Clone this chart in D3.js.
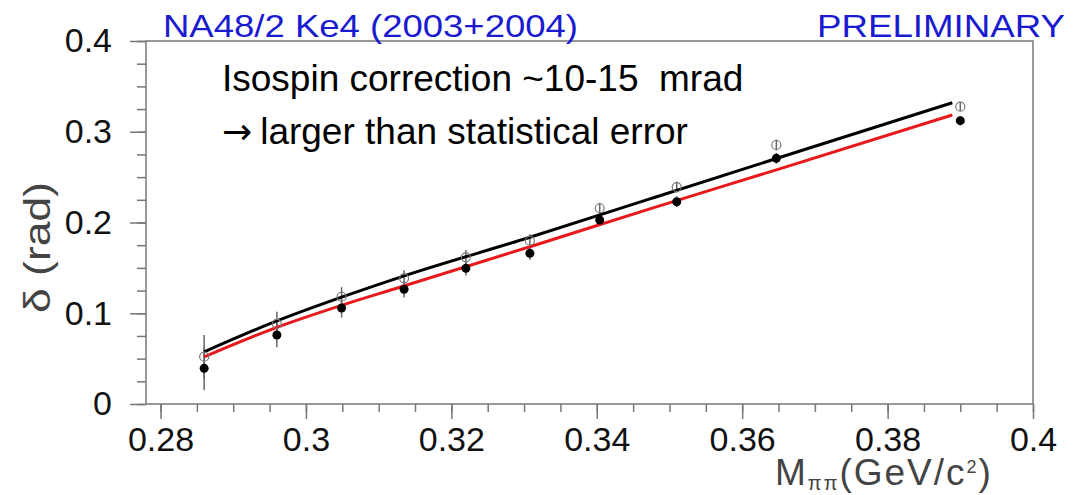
<!DOCTYPE html>
<meta charset="utf-8">
<title>NA48/2 Ke4 phase shift</title>
<style>
body { margin: 0; background: #fff; }
svg { display: block; font-family: "Liberation Sans", Arial, sans-serif; }
</style>
<body>
<script src="https://d3js.org/d3.v7.min.js"></script>
<script>
// measured points: M_pipi (GeV/c2), delta (rad)
var mass        = [0.286, 0.296, 0.3049, 0.3135, 0.322, 0.3308, 0.3404, 0.351, 0.3647, 0.390];
var deltaOpen   = [0.0521, 0.0882, 0.1182, 0.1385, 0.1616, 0.180, 0.2157, 0.239, 0.2854, 0.3276];
var deltaFilled = [0.0393, 0.076, 0.1058, 0.1264, 0.1495, 0.166, 0.2028, 0.2229, 0.2707, 0.3122];
var deltaErr    = [0.024, 0.0134, 0.0105, 0.009, 0.008, 0.007, 0.006, 0.006, 0.006, 0.005];

// theory curves
var curveMass  = [0.286, 0.296, 0.305, 0.3129, 0.3308, 0.3473, 0.3647, 0.3889];
var curveBlack = [0.0575, 0.0915, 0.118, 0.1396, 0.1837, 0.226, 0.2705, 0.332];
var curveRed   = [0.052, 0.0845, 0.109, 0.1286, 0.1733, 0.215, 0.258, 0.3185];

var xMajor = [0.28, 0.30, 0.32, 0.34, 0.36, 0.38, 0.40];
var xLabels = ["0.28", "0.3", "0.32", "0.34", "0.36", "0.38", "0.4"];
var yMajor = [0, 0.1, 0.2, 0.3, 0.4];
var yLabels = ["0", "0.1", "0.2", "0.3", "0.4"];

var width = 1077, height = 495;
var plotLeft = 146, plotRight = 1033, plotTop = 41, plotBottom = 404;

var svg = d3.select("body").append("svg")
    .attr("width", width)
    .attr("height", height);

svg.append("rect").attr("width", width).attr("height", height).attr("fill", "#fff");

var x = d3.scaleLinear().domain([0.278, 0.4]).range([plotLeft, plotRight]);
var y = d3.scaleLinear().domain([0, 0.4]).range([plotBottom, plotTop]);

var axisColor = "#777";

// frame
svg.append("rect")
    .attr("x", plotLeft).attr("y", plotTop)
    .attr("width", plotRight - plotLeft).attr("height", plotBottom - plotTop)
    .attr("fill", "none")
    .attr("stroke", axisColor)
    .attr("stroke-width", 1.5);

// minor ticks
var xMinor = d3.range(0.28, 0.4001, 0.005);
var yMinor = d3.range(0, 0.4001, 0.025);

svg.append("g")
    .attr("transform", "translate(0," + plotBottom + ")")
    .call(d3.axisBottom(x).tickValues(xMinor).tickSize(8).tickFormat(""))
    .call(function(g) { g.select(".domain").remove(); g.selectAll("line").attr("stroke", axisColor).attr("stroke-width", 1.5); });

svg.append("g")
    .attr("transform", "translate(" + plotLeft + ",0)")
    .call(d3.axisLeft(y).tickValues(yMinor).tickSize(9).tickFormat(""))
    .call(function(g) { g.select(".domain").remove(); g.selectAll("line").attr("stroke", axisColor).attr("stroke-width", 1.5); });

// major ticks + labels
svg.append("g")
    .attr("transform", "translate(0," + plotBottom + ")")
    .call(d3.axisBottom(x).tickValues(xMajor).tickSize(15).tickPadding(8)
        .tickFormat(function(d, i) { return xLabels[i]; }))
    .call(function(g) {
        g.select(".domain").remove();
        g.selectAll("line").attr("stroke", axisColor).attr("stroke-width", 1.5);
        g.selectAll("text").attr("font-size", 34).attr("fill", "#111")
            .attr("font-family", "Liberation Sans, Arial, sans-serif");
    });

svg.append("g")
    .attr("transform", "translate(" + plotLeft + ",0)")
    .call(d3.axisLeft(y).tickValues(yMajor).tickSize(16).tickPadding(18)
        .tickFormat(function(d, i) { return yLabels[i]; }))
    .call(function(g) {
        g.select(".domain").remove();
        g.selectAll("line").attr("stroke", axisColor).attr("stroke-width", 1.5);
        g.selectAll("text").attr("font-size", 34).attr("fill", "#111")
            .attr("font-family", "Liberation Sans, Arial, sans-serif");
    });

// error bars
var pts = mass.map(function(m, i) {
    return { m: m, open: deltaOpen[i], filled: deltaFilled[i], e: deltaErr[i] };
});

var gErr = svg.append("g").attr("stroke", "#666").attr("stroke-width", 1.5);
pts.forEach(function(p) {
    [p.open, p.filled].forEach(function(v) {
        gErr.append("line")
            .attr("x1", x(p.m)).attr("x2", x(p.m))
            .attr("y1", y(v - p.e)).attr("y2", y(v + p.e));
    });
});

// curves
var line = d3.line()
    .x(function(d) { return x(d[0]); })
    .y(function(d) { return y(d[1]); })
    .curve(d3.curveMonotoneX);

svg.append("path")
    .datum(curveMass.map(function(m, i) { return [m, curveRed[i]]; }))
    .attr("d", line)
    .attr("fill", "none")
    .attr("stroke", "#e8191c")
    .attr("stroke-width", 3);

svg.append("path")
    .datum(curveMass.map(function(m, i) { return [m, curveBlack[i]]; }))
    .attr("d", line)
    .attr("fill", "none")
    .attr("stroke", "#000")
    .attr("stroke-width", 3);

// markers
svg.append("g").selectAll("circle")
    .data(pts).enter().append("circle")
    .attr("cx", function(d) { return x(d.m); })
    .attr("cy", function(d) { return y(d.open); })
    .attr("r", 4.5)
    .attr("fill", "none")
    .attr("stroke", "#777")
    .attr("stroke-width", 1.2);

svg.append("g").selectAll("circle")
    .data(pts).enter().append("circle")
    .attr("cx", function(d) { return x(d.m); })
    .attr("cy", function(d) { return y(d.filled); })
    .attr("r", 4.5)
    .attr("fill", "#000");

// header texts
svg.append("text")
    .attr("x", 163).attr("y", 37)
    .attr("font-size", 32)
    .attr("fill", "#1a1ad0")
    .attr("textLength", 415)
    .attr("lengthAdjust", "spacingAndGlyphs")
    .text("NA48/2 Ke4 (2003+2004)");

svg.append("text")
    .attr("x", 817).attr("y", 37)
    .attr("font-size", 32)
    .attr("fill", "#1a1ad0")
    .attr("textLength", 248)
    .attr("lengthAdjust", "spacingAndGlyphs")
    .text("PRELIMINARY");

// annotation
svg.append("text")
    .attr("x", 222).attr("y", 91)
    .attr("font-size", 37)
    .attr("fill", "#000")
    .style("white-space", "pre")
    .text("Isospin correction ~10-15  mrad");

var note2 = svg.append("text")
    .attr("x", 222).attr("y", 144)
    .attr("font-size", 37)
    .attr("fill", "#000");
note2.append("tspan")
    .attr("font-family", "DejaVu Sans, sans-serif")
    .attr("font-size", 36)
    .text("\u2192");
note2.append("tspan").attr("dx", 8).text("larger than statistical error");

// axis titles
svg.append("text")
    .attr("transform", "translate(50,313) rotate(-90)")
    .attr("font-size", 37)
    .attr("fill", "#444")
    .attr("textLength", 131)
    .attr("lengthAdjust", "spacingAndGlyphs")
    .text("\u03b4 (rad)");

var xt = svg.append("text")
    .attr("x", 775).attr("y", 485)
    .attr("font-size", 37)
    .attr("fill", "#444")
    .attr("letter-spacing", 2);
xt.append("tspan").text("M");
xt.append("tspan").attr("font-size", 20).attr("dy", 5).text("\u03c0\u03c0");
xt.append("tspan").attr("dy", -5).text("(GeV/c");
xt.append("tspan").attr("font-size", 18).attr("dy", -12).text("2");
xt.append("tspan").attr("dy", 12).text(")");
</script>
</body>
